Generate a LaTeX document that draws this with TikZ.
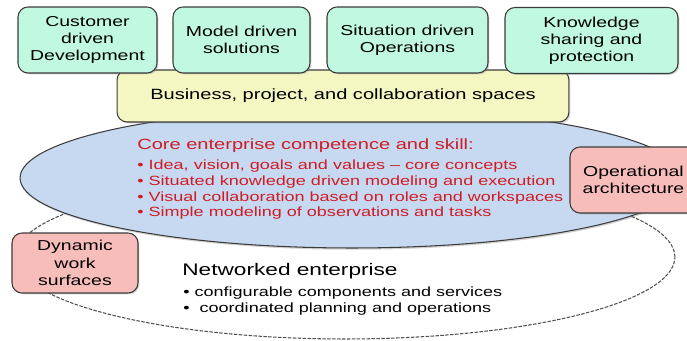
\documentclass[tikz,border=0pt]{standalone}
\usepackage{fontspec}
\setmainfont{Liberation Sans}[FakeStretch=1.35]
\usepackage{tikz}
\usetikzlibrary{positioning,shapes.geometric,shadows}
\definecolor{boxink}{HTML}{3C3C3C}
\definecolor{mint}{HTML}{C0F8E0}
\definecolor{paleyellow}{HTML}{F4F7C2}
\definecolor{coreblue}{HTML}{C6D9F0}
\definecolor{rosepink}{HTML}{F7BDBA}
\definecolor{corered}{HTML}{D01C24}

\begin{document}
\begin{tikzpicture}[x=0.02cm,y=-0.02cm,
  topbox/.style={draw=boxink,fill=mint,line width=0.6pt,rounded corners=2mm,
    minimum height=1.32cm,inner sep=0pt,align=center,
    font=\fontsize{8.2}{9.8}\selectfont,
    drop shadow={shadow xshift=0.8pt,shadow yshift=-0.8pt,opacity=0.35}},
  spacebox/.style={draw=boxink,fill=paleyellow,line width=0.6pt,
    rounded corners=2mm,minimum width=9.04cm,minimum height=1.04cm,
    inner sep=0pt,font=\fontsize{8.45}{10}\selectfont,
    drop shadow={shadow xshift=0.8pt,shadow yshift=-0.8pt,opacity=0.35}},
  sidebox/.style={draw=boxink,fill=rosepink,line width=0.6pt,
    rounded corners=2mm,inner sep=0pt,align=center,
    font=\fontsize{8.2}{9.9}\selectfont,
    drop shadow={shadow xshift=0.8pt,shadow yshift=-0.8pt,opacity=0.35}},
  coreell/.style={ellipse,draw=boxink,fill=coreblue,line width=0.6pt,
    minimum width=13.28cm,minimum height=2.8cm,inner sep=0pt,
    drop shadow={shadow xshift=0.6pt,shadow yshift=-1pt,opacity=0.35}},
  netell/.style={ellipse,draw=boxink!90,fill=white,line width=0.6pt,
    dash pattern=on 2pt off 0.8pt,minimum width=13.2cm,
    minimum height=3.28cm,inner sep=0pt}
]
  \useasboundingbox (0,0) rectangle (687,341);
  \clip (0,0) rectangle (687,341);

  % the two layers
  \node[netell] (net) at (345,257) {};
  \node[coreell] (core) at (352,178) {};
  \node[spacebox] (spaces) at (343,96)
    {Business, project, and collaboration spaces};

  % top row
  \node[topbox,minimum width=2.78cm] (cust) at (87.5,40)
    {Customer\\driven\\Development};
  \node[topbox,minimum width=2.74cm] (model) at (241.5,40)
    {Model driven\\solutions};
  \node[topbox,minimum width=3.22cm] (situ) at (407.5,40)
    {Situation driven\\Operations};
  \node[topbox,minimum width=3.46cm] (know) at (591.5,40.5)
    {Knowledge\\sharing and\\protection};

  % side boxes
  \node[sidebox,minimum width=2.54cm,minimum height=1.32cm] (oper)
    at (633.5,180) {Operational\\architecture};
  \node[sidebox,minimum width=2.52cm,minimum height=1.2cm] (dyn)
    at (75,263) {Dynamic\\work\\surfaces};

  % core text
  \node[anchor=west,inner sep=0pt,text=corered,
    font=\fontsize{8.45}{10}\selectfont] (corehead) at (137,146)
    {Core enterprise competence and skill:};
  \node[anchor=north west,inner sep=0pt,text=corered,align=left,
    font=\fontsize{7.6}{9.1}\selectfont] (corelist) at (137,159)
    {\textbullet\ Idea, vision, goals and values -- core concepts\\
     \textbullet\ Situated knowledge driven modeling and execution\\
     \textbullet\ Visual collaboration based on roles and workspaces\\
     \textbullet\ Simple modeling of observations and tasks};

  % networked enterprise
  \node[anchor=west,inner sep=0pt,font=\fontsize{9.55}{11}\selectfont]
    (nethead) at (182,271) {Networked enterprise};
  \node[anchor=north west,inner sep=0pt,align=left,
    font=\fontsize{7.6}{9.6}\selectfont] (netlist) at (183,286)
    {\textbullet\ configurable components and services\\
     \textbullet\ \ coordinated planning and operations};
\end{tikzpicture}
\end{document}
